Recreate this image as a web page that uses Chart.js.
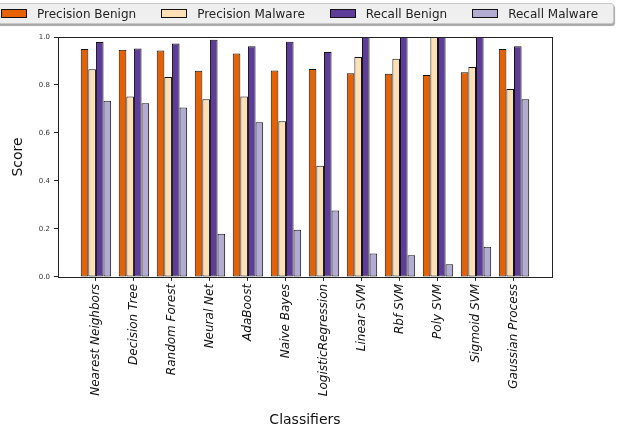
<!DOCTYPE html>
<html>
<head>
<meta charset="utf-8">
<script src="https://cdn.jsdelivr.net/npm/chart.js@4"></script>
<style>
  body { margin: 0; background: #fff; }
  #wrap { position: relative; width: 624px; height: 429px; overflow: hidden; }
  #legend {
    position: absolute; left: -6px; top: 3px; width: 620px; height: 21px;
    background: #efefef; border: 1px solid #c8c8c8; border-radius: 3px;
    box-shadow: 1px 2px 1px rgba(0, 0, 0, 0.35);
    display: flex; align-items: center; padding-left: 6px; box-sizing: border-box;
    font-family: "DejaVu Sans", sans-serif; font-size: 12px; color: #222;
  }
  #legend .item { display: flex; align-items: center; margin-right: 25px; white-space: nowrap; }
  #legend .box { width: 24px; height: 7px; border: 1px solid #111; margin-right: 10px; }
</style>
</head>
<body>
<div id="wrap">
  <canvas id="myChart" width="624" height="429"></canvas>
  <div id="legend"></div>
</div>
<script>
const classifiers = [
    'Nearest Neighbors',
    'Decision Tree',
    'Random Forest',
    'Neural Net',
    'AdaBoost',
    'Naive Bayes',
    'LogisticRegression',
    'Linear SVM',
    'Rbf SVM',
    'Poly SVM',
    'Sigmoid SVM',
    'Gaussian Process'
];

const precisionBenign = [0.950, 0.947, 0.944, 0.859, 0.931, 0.860, 0.867, 0.849, 0.847, 0.842, 0.853, 0.950];
const precisionMalware = [0.866, 0.752, 0.833, 0.741, 0.752, 0.649, 0.463, 0.917, 0.909, 1.000, 0.875, 0.783];
const recallBenign = [0.979, 0.952, 0.973, 0.989, 0.961, 0.980, 0.937, 1.000, 1.000, 1.000, 1.000, 0.961];
const recallMalware = [0.734, 0.724, 0.706, 0.180, 0.645, 0.196, 0.277, 0.098, 0.090, 0.053, 0.126, 0.741];

const yTicks = [0, 0.2, 0.4, 0.6, 0.8, 1.0];

// x is a linear scale so the groups get a full unit of margin on each side
const toPoints = (vals) => vals.map((v, i) => ({ x: i, y: v }));

const makeSet = (label, vals, color) => ({
    label: label,
    data: toPoints(vals),
    backgroundColor: color,
    borderColor: '#111',
    borderWidth: 1,
    borderSkipped: false,
    categoryPercentage: 0.8,
    barPercentage: 1.0
});

const data = {
    datasets: [
        makeSet('Precision Benign', precisionBenign, '#e66101'),
        makeSet('Precision Malware', precisionMalware, '#fee0b6'),
        makeSet('Recall Benign', recallBenign, '#5e3c99'),
        makeSet('Recall Malware', recallMalware, '#b2abd2')
    ]
};

// html legend, built from the datasets
const htmlLegend = {
    id: 'htmlLegend',
    afterUpdate(chart) {
        const box = document.getElementById('legend');
        box.innerHTML = '';
        chart.data.datasets.forEach(ds => {
            const item = document.createElement('div');
            item.className = 'item';
            const sw = document.createElement('span');
            sw.className = 'box';
            sw.style.background = ds.backgroundColor;
            const txt = document.createElement('span');
            txt.textContent = ds.label;
            item.appendChild(sw);
            item.appendChild(txt);
            box.appendChild(item);
        });
    }
};

// frame around the whole plot area
const frame = {
    id: 'frame',
    afterDraw(chart) {
        const { ctx, chartArea: a } = chart;
        ctx.save();
        ctx.strokeStyle = '#222';
        ctx.lineWidth = 1;
        ctx.strokeRect(Math.round(a.left) + 0.5, Math.round(a.top) + 0.5,
            Math.round(a.right - a.left), Math.round(a.bottom - a.top));
        ctx.restore();
    }
};

const ctx = document.getElementById('myChart').getContext('2d');

new Chart(ctx, {
    type: 'bar',
    data: data,
    plugins: [htmlLegend, frame],
    options: {
        responsive: false,
        animation: false,
        layout: {
            padding: { top: 37, right: 72, left: 0, bottom: 0 }
        },
        plugins: {
            legend: { display: false },
            tooltip: { enabled: false }
        },
        scales: {
            x: {
                type: 'linear',
                min: -1,
                max: 12,
                offset: false,
                grid: { display: true, drawOnChartArea: false, drawTicks: true, tickLength: 4, color: '#222', offset: false },
                border: { display: false },
                ticks: {
                    stepSize: 1,
                    autoSkip: false,
                    minRotation: 90,
                    maxRotation: 90,
                    padding: 3,
                    color: '#111',
                    font: { family: 'DejaVu Sans', size: 12, style: 'italic' },
                    callback: (v) => (Number.isInteger(v) && v >= 0 && v < classifiers.length) ? classifiers[v] : null
                },
                title: {
                    display: true,
                    text: 'Classifiers',
                    color: '#111',
                    font: { family: 'DejaVu Sans', size: 14 },
                    padding: { top: 13, bottom: 0 }
                }
            },
            y: {
                min: 0,
                max: 1,
                grid: { display: true, drawOnChartArea: false, drawTicks: true, tickLength: 4, color: '#222' },
                border: { display: false },
                afterBuildTicks: (axis) => { axis.ticks = yTicks.map(v => ({ value: v })); },
                ticks: {
                    padding: 4,
                    color: '#333',
                    font: { family: 'DejaVu Sans', size: 7 },
                    callback: (v) => v.toFixed(1)
                },
                title: {
                    display: true,
                    text: 'Score',
                    color: '#111',
                    font: { family: 'DejaVu Sans', size: 14 },
                    padding: { top: 10, bottom: 8 }
                }
            }
        }
    }
});
</script>
</body>
</html>
